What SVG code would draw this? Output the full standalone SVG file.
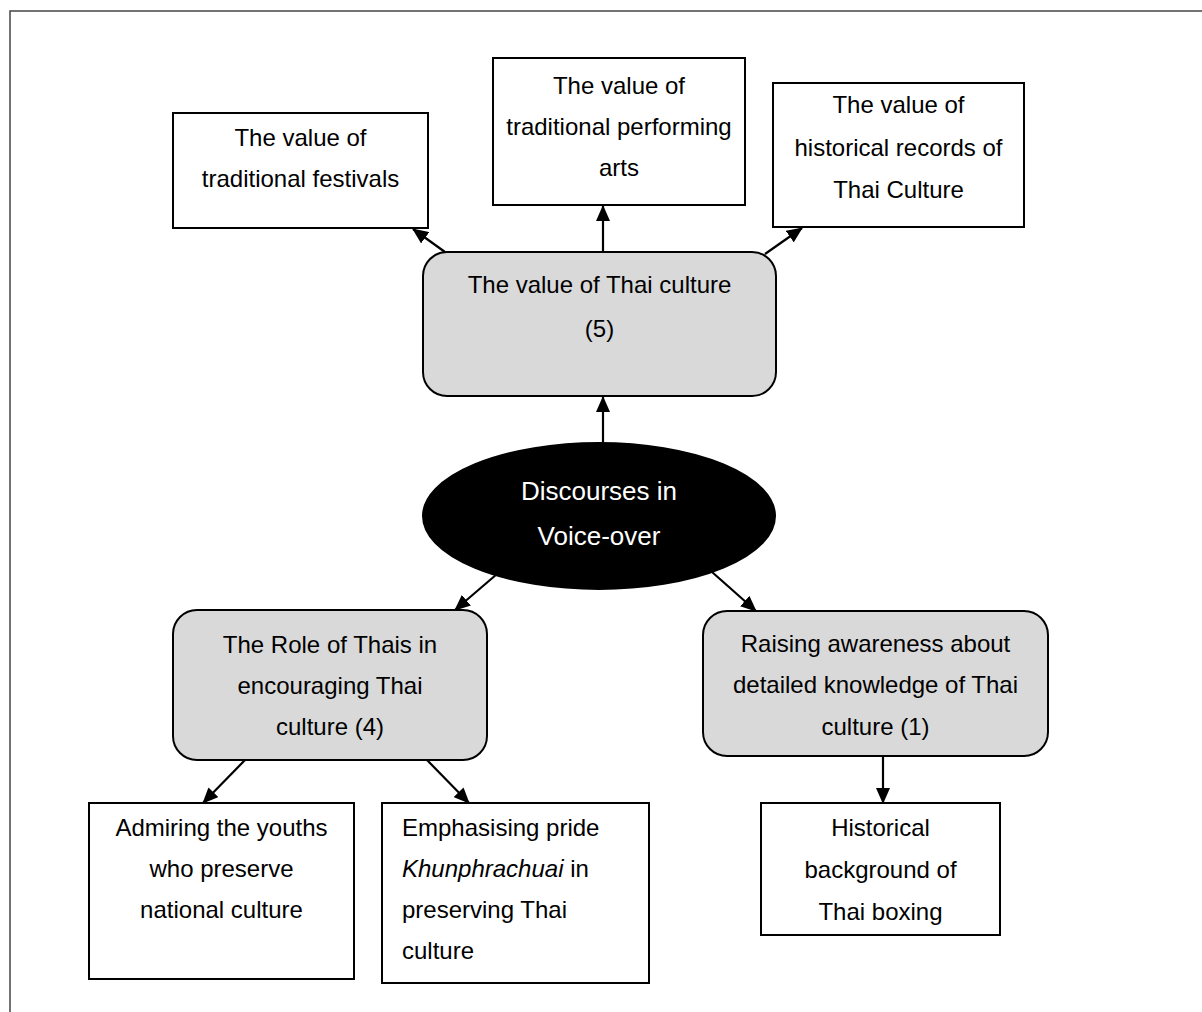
<svg xmlns="http://www.w3.org/2000/svg" width="1202" height="1012" viewBox="0 0 1202 1012">
  <style>
    .frame { fill: none; stroke: #444; stroke-width: 1.5; }
    .box { fill: #fff; stroke: #000; stroke-width: 2; }
    .theme { fill: #d9d9d9; stroke: #000; stroke-width: 2; }
    .core { fill: #000; stroke: #000; stroke-width: 2; }
    .t { font-family: "Liberation Sans", Arial, sans-serif; font-size: 24px; fill: #000; text-anchor: middle; }
    .tl { text-anchor: start; }
    .w { fill: #fff; font-size: 26px; }
    .link { fill: none; stroke: #000; stroke-width: 2.2; marker-end: url(#head); }
  </style>
  <defs>
    <marker id="head" viewBox="0 0 16 14" refX="15" refY="7" markerWidth="16" markerHeight="14" markerUnits="userSpaceOnUse" orient="auto">
      <path d="M0,0 L16,7 L0,14 Z" fill="#000"/>
    </marker>
  </defs>

  <rect width="1202" height="1012" fill="#fff"/>
  <path class="frame" d="M10,1012 V11 H1202"/>

  <g id="connectors">
    <line class="link" x1="445" y1="252" x2="413" y2="229"/>
    <line class="link" x1="603" y1="252" x2="603" y2="206"/>
    <line class="link" x1="765" y1="254" x2="802" y2="228"/>
    <line class="link" x1="603" y1="443" x2="603" y2="397"/>
    <line class="link" x1="497" y1="574" x2="455" y2="610"/>
    <line class="link" x1="712" y1="572" x2="756" y2="611"/>
    <line class="link" x1="245" y1="760" x2="203" y2="803"/>
    <line class="link" x1="427" y1="760" x2="469" y2="803"/>
    <line class="link" x1="883" y1="756" x2="883" y2="803"/>
  </g>

  <g id="festivals">
    <rect class="box" x="173" y="113" width="255" height="115"/>
    <text class="t" x="300.5" y="146">The value of</text>
    <text class="t" x="300.5" y="187">traditional festivals</text>
  </g>

  <g id="performing-arts">
    <rect class="box" x="493" y="58" width="252" height="147"/>
    <text class="t" x="619" y="94">The value of</text>
    <text class="t" x="619" y="135">traditional performing</text>
    <text class="t" x="619" y="176">arts</text>
  </g>

  <g id="historical-records">
    <rect class="box" x="773" y="83" width="251" height="144"/>
    <text class="t" x="898.5" y="113">The value of</text>
    <text class="t" x="898.5" y="156">historical records of</text>
    <text class="t" x="898.5" y="198">Thai Culture</text>
  </g>

  <g id="value-of-thai-culture">
    <rect class="theme" x="423" y="252" width="353" height="144" rx="24"/>
    <text class="t" x="599.5" y="293">The value of Thai culture</text>
    <text class="t" x="599.5" y="337">(5)</text>
  </g>

  <g id="discourses">
    <ellipse class="core" cx="599" cy="516" rx="176" ry="73"/>
    <text class="t w" x="599" y="500">Discourses in</text>
    <text class="t w" x="599" y="545">Voice-over</text>
  </g>

  <g id="role-of-thais">
    <rect class="theme" x="173" y="610" width="314" height="150" rx="24"/>
    <text class="t" x="330" y="653">The Role of Thais in</text>
    <text class="t" x="330" y="694">encouraging Thai</text>
    <text class="t" x="330" y="735">culture (4)</text>
  </g>

  <g id="raising-awareness">
    <rect class="theme" x="703" y="611" width="345" height="145" rx="24"/>
    <text class="t" x="875.5" y="652">Raising awareness about</text>
    <text class="t" x="875.5" y="693">detailed knowledge of Thai</text>
    <text class="t" x="875.5" y="735">culture (1)</text>
  </g>

  <g id="admiring-youths">
    <rect class="box" x="89" y="803" width="265" height="176"/>
    <text class="t" x="221.5" y="836">Admiring the youths</text>
    <text class="t" x="221.5" y="877">who preserve</text>
    <text class="t" x="221.5" y="918">national culture</text>
  </g>

  <g id="emphasising-pride">
    <rect class="box" x="382" y="803" width="267" height="180"/>
    <text class="t tl" x="402" y="836">Emphasising pride</text>
    <text class="t tl" x="402" y="877"><tspan font-style="italic">Khunphrachuai</tspan> in</text>
    <text class="t tl" x="402" y="918">preserving Thai</text>
    <text class="t tl" x="402" y="959">culture</text>
  </g>

  <g id="thai-boxing">
    <rect class="box" x="761" y="803" width="239" height="132"/>
    <text class="t" x="880.5" y="836">Historical</text>
    <text class="t" x="880.5" y="878">background of</text>
    <text class="t" x="880.5" y="920">Thai boxing</text>
  </g>
</svg>
